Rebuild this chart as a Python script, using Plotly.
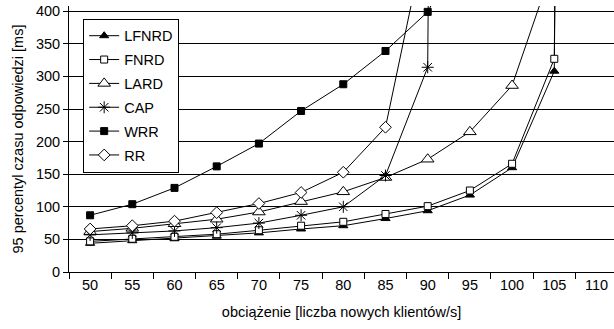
import plotly.graph_objects as go

# Load levels (new clients per second)
load = ["50", "55", "60", "65", "70", "75", "80", "85", "90", "95", "100", "105", "110"]

# 95th percentile of response time [ms]; saturated points run far off the top of the axis
lfnrd = [44, 48, 51, 55, 60, 66, 71, 82, 94, 118, 160, 308, 8000]
fnrd = [47, 51, 54, 58, 64, 71, 77, 89, 101, 125, 166, 327, 8000]
lard = [62, 67, 74, 81, 92, 108, 123, 145, 173, 215, 286, 475, None]
cap = [57, 60, 63, 68, 75, 87, 100, 148, 314, 8000, None, None, None]
wrr = [87, 104, 129, 162, 197, 247, 288, 339, 399, 520, None, None, None]
rr = [66, 71, 78, 91, 105, 122, 153, 222, 530, None, None, None, None]

series = [
    ("LFNRD", lfnrd, dict(symbol="triangle-up", size=8, color="black",
                          line=dict(color="black", width=1))),
    ("FNRD", fnrd, dict(symbol="square", size=7, color="white",
                        line=dict(color="black", width=1))),
    ("LARD", lard, dict(symbol="triangle-up", size=11, color="white",
                        line=dict(color="black", width=1))),
    ("CAP", cap, dict(symbol="asterisk-open", size=10, color="black",
                      line=dict(color="black", width=1))),
    ("WRR", wrr, dict(symbol="square", size=7, color="black",
                      line=dict(color="black", width=1))),
    ("RR", rr, dict(symbol="diamond", size=9, color="white",
                    line=dict(color="black", width=1))),
]

FONT = "Liberation Sans, Arial, sans-serif"
FS = 14.5

fig = go.Figure()
for name, vals, marker in series:
    fig.add_trace(go.Scatter(
        x=load, y=vals, name=name, legendgroup=name,
        mode="lines+markers",
        line=dict(color="black", width=1),
        marker=marker,
        connectgaps=False,
    ))

fig.update_layout(
    width=614, height=329,
    margin=dict(l=69, r=0, t=6, b=57),
    paper_bgcolor="white", plot_bgcolor="white",
    font=dict(family=FONT, size=FS, color="black"),
    showlegend=True,
    legend=dict(
        x=0.026, y=0.952, xanchor="left", yanchor="top",
        bordercolor="black", borderwidth=1, bgcolor="white",
        font=dict(family=FONT, size=FS, color="black"),
        tracegroupgap=2, traceorder="grouped",
    ),
)

fig.update_xaxes(
    type="category", range=[-0.5, 12.415],
    showline=True, linecolor="black", linewidth=1,
    ticks="outside", tickson="boundaries", ticklen=6, tickcolor="black",
    showgrid=False, zeroline=False,
    tickfont=dict(family=FONT, size=FS),
    title=dict(text="obciążenie [liczba nowych klientów/s]",
               font=dict(family=FONT, size=FS), standoff=14),
)

fig.update_yaxes(
    range=[0, 408], dtick=50, tick0=0,
    showline=True, linecolor="black", linewidth=1,
    ticks="outside", ticklen=5, tickcolor="black",
    showgrid=True, gridcolor="black", gridwidth=1, zeroline=False,
    tickfont=dict(family=FONT, size=FS),
    title=dict(text="95 percentyl czasu odpowiedzi [ms]",
               font=dict(family=FONT, size=FS), standoff=8),
)

fig.write_html("out.html")
